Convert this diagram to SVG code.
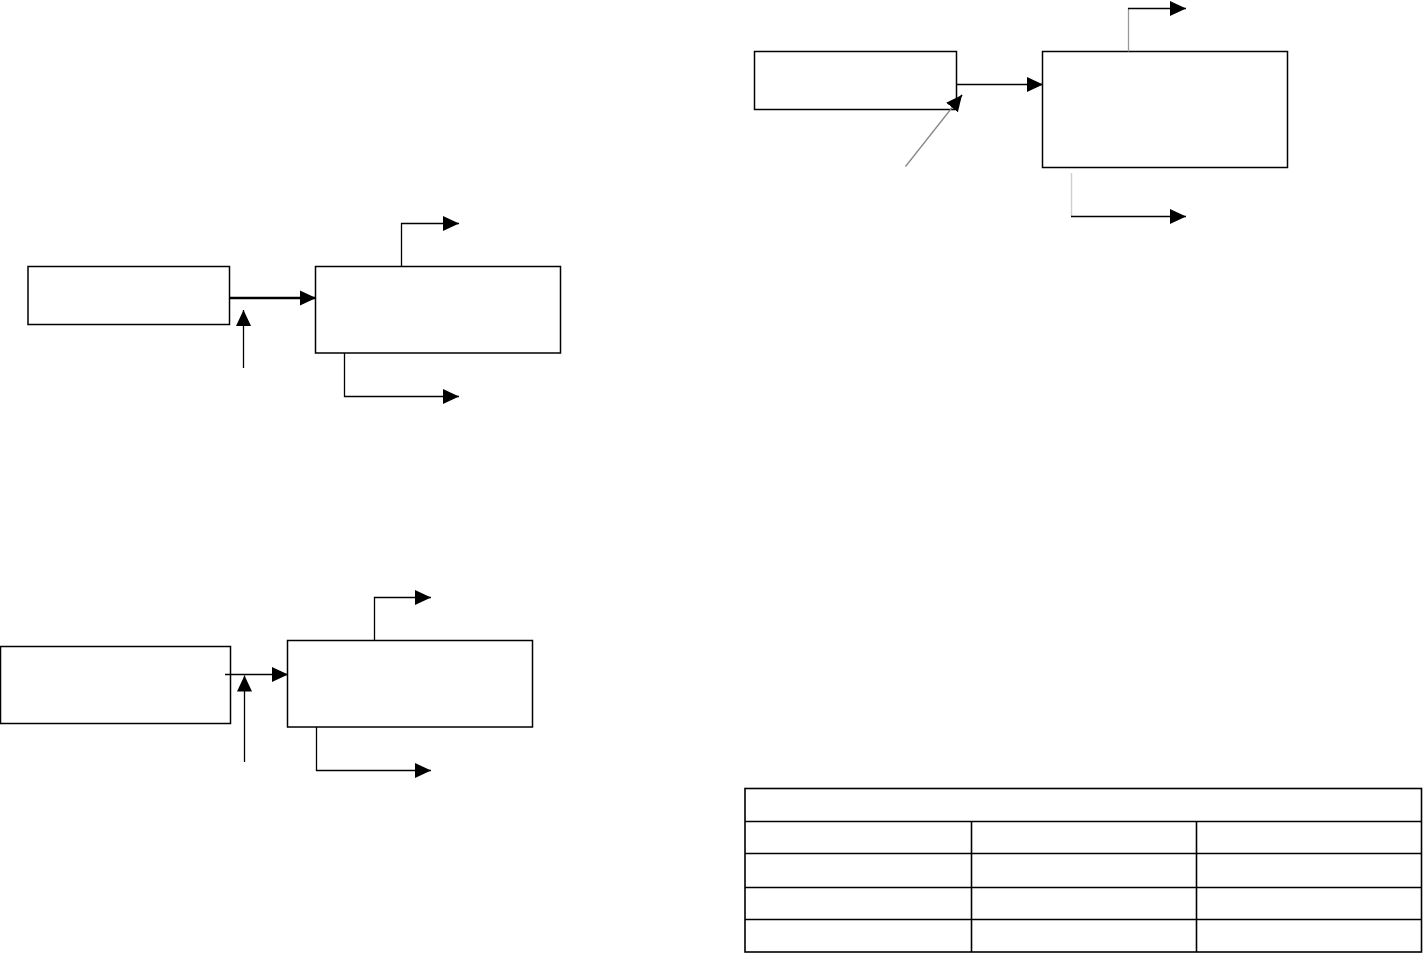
<svg xmlns="http://www.w3.org/2000/svg" width="1423" height="953" viewBox="0 0 1423 953">
<style>
.box{fill:#fff;stroke:#000;stroke-width:1.5}
.ln{fill:none;stroke:#000;stroke-width:1.3}
.thick{stroke-width:2.5}
.g1{stroke:#888}
.g2{stroke:#999}
.g3{stroke:#d0d0d0;stroke-width:1.5}
.tbl{fill:none;stroke:#000;stroke-width:1.6}
</style>
<defs>
<marker id="ah" markerUnits="userSpaceOnUse" markerWidth="17" markerHeight="17" viewBox="0 0 17 17" refX="16" refY="8" orient="auto">
<path d="M0,0.5 L16,8 L0,15.5 Z" fill="#000"/>
</marker>
</defs>
<rect width="1423" height="953" fill="#fff"/>

<g id="d1-left"><rect class="box" x="28" y="266.5" width="201.5" height="58"/></g>
<g id="d1-right"><rect class="box" x="315.5" y="266.5" width="245" height="86.5"/></g>

<g id="d2-left"><rect class="box" x="0.5" y="646.5" width="230" height="77"/></g>
<g id="d2-right"><rect class="box" x="287.5" y="640.5" width="245" height="86.5"/></g>

<g id="d3-left"><rect class="box" x="754.5" y="51.5" width="202" height="58"/></g>
<g id="d3-right"><rect class="box" x="1042.5" y="51.5" width="245" height="116"/></g>

<g id="connectors">
<!-- diagram 1 -->
<line class="ln thick" x1="229.5" y1="298" x2="316" y2="298" marker-end="url(#ah)"/>
<line class="ln" x1="243.5" y1="368" x2="243.5" y2="310" marker-end="url(#ah)"/>
<polyline class="ln" points="401.5,266.5 401.5,223.5 459,223.5" marker-end="url(#ah)"/>
<polyline class="ln" points="344.5,353 344.5,396.5 459,396.5" marker-end="url(#ah)"/>
<!-- diagram 2 -->
<line class="ln" x1="225" y1="674.5" x2="288" y2="674.5" marker-end="url(#ah)"/>
<line class="ln" x1="244.5" y1="762" x2="244.5" y2="675.5" marker-end="url(#ah)"/>
<polyline class="ln" points="374.5,640.5 374.5,597.5 431,597.5" marker-end="url(#ah)"/>
<polyline class="ln" points="316.5,727 316.5,770.5 431,770.5" marker-end="url(#ah)"/>
<!-- diagram 3 -->
<line class="ln" x1="956.5" y1="84.5" x2="1043" y2="84.5" marker-end="url(#ah)"/>
<line class="ln g1" x1="905.5" y1="166.5" x2="962" y2="95"/>
<line class="ln" x1="958" y1="100" x2="962" y2="95" stroke-width="0.5" marker-end="url(#ah)"/>
<line class="ln g2" x1="1128.5" y1="51.5" x2="1128.5" y2="8.5"/>
<line class="ln" x1="1128" y1="8.5" x2="1186" y2="8.5" marker-end="url(#ah)"/>
<line class="ln g3" x1="1071.5" y1="173" x2="1071.5" y2="216"/>
<line class="ln" x1="1071" y1="216.5" x2="1186" y2="216.5" marker-end="url(#ah)"/>
</g>

<g id="table">
<rect class="tbl" x="745" y="788.5" width="676.5" height="163.5"/>
<line class="tbl" x1="745" y1="821.5" x2="1421.5" y2="821.5"/>
<line class="tbl" x1="745" y1="853.5" x2="1421.5" y2="853.5"/>
<line class="tbl" x1="745" y1="887.5" x2="1421.5" y2="887.5"/>
<line class="tbl" x1="745" y1="919.5" x2="1421.5" y2="919.5"/>
<line class="tbl" x1="971.5" y1="821.5" x2="971.5" y2="952"/>
<line class="tbl" x1="1196.5" y1="821.5" x2="1196.5" y2="952"/>
</g>
</svg>
